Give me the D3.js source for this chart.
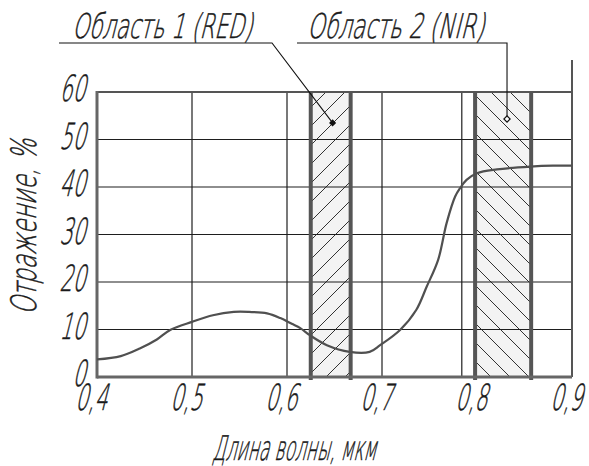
<!DOCTYPE html>
<html>
<head>
<meta charset="utf-8">
<script src="https://cdn.jsdelivr.net/npm/d3@7"></script>
<style>
  body { margin: 0; background: #fff; }
  text { font-family: "DejaVu Sans", sans-serif; font-weight: 200; fill: #1a1a1a; stroke: #1a1a1a; stroke-width: 0.5; }
</style>
</head>
<body>
<script>
// Spectral reflectance curve (wavelength, um -> reflectance, %)
const wavelength = [0.40, 0.425, 0.445, 0.463, 0.477, 0.50, 0.522, 0.544, 0.56, 0.579,
    0.593, 0.605, 0.614, 0.624, 0.642, 0.666, 0.687, 0.698, 0.719, 0.736,
    0.747, 0.759, 0.768, 0.777, 0.782, 0.789, 0.80, 0.821, 0.856, 0.88, 0.90];
const reflect = [3.7, 4.4, 6.0, 7.9, 9.9, 11.6, 13.0, 13.7, 13.7, 13.4,
    12.4, 11.2, 10.3, 8.8, 6.7, 5.3, 5.3, 6.7, 9.9, 14.1,
    19.0, 24.6, 32.4, 38.0, 39.7, 41.5, 42.9, 43.7, 44.3, 44.5, 44.5];
// tick labels
const xTicks = [0.4, 0.5, 0.6, 0.7, 0.8, 0.9];
const yTicks = [0, 10, 20, 30, 40, 50, 60];
// thin vertical grid lines
const xGrid = [0.5, 0.6, 0.7, 0.784];
// hatched regions
const regionNames = ["Область 1 (RED)", "Область 2 (NIR)"];
const regionFrom = [0.625, 0.798];
const regionTo = [0.667, 0.857];
// leader marker points (wavelength, %)
const markerX = [0.648, 0.8316];
const markerY = [53.5, 54.3];

const w = 589;
const h = 466;

const svg = d3.select("body")
    .append("svg")
    .attr("width", w)
    .attr("height", h);

const xScale = d3.scaleLinear().domain([0.4, 0.9]).range([97, 572]);
const yScale = d3.scaleLinear().domain([0, 60]).range([377, 92]);

// hatch patterns
const defs = svg.append("defs");
function hatch(id, dir) {
    const s = 19;
    const p = defs.append("pattern")
        .attr("id", id)
        .attr("patternUnits", "userSpaceOnUse")
        .attr("width", s)
        .attr("height", s);
    p.append("rect").attr("width", s).attr("height", s).attr("fill", "#f3f3f3");
    const d = dir == "up"
        ? `M0,${s} L${s},0 M${-s / 2},${s / 2} L${s / 2},${-s / 2} M${s / 2},${s * 1.5} L${s * 1.5},${s / 2}`
        : `M0,0 L${s},${s} M${-s / 2},${s / 2} L${s / 2},${s * 1.5} M${s / 2},${-s / 2} L${s * 1.5},${s / 2}`;
    p.append("path").attr("d", d).attr("stroke", "#333").attr("stroke-width", 1);
}
hatch("h1", "up");
hatch("h2", "down");

// hatched regions
svg.selectAll(".region")
    .data(regionFrom)
    .enter()
    .append("rect")
    .attr("class", "region")
    .attr("x", (d, i) => xScale(d))
    .attr("y", yScale(60))
    .attr("width", (d, i) => xScale(regionTo[i]) - xScale(d))
    .attr("height", yScale(0) - yScale(60))
    .attr("fill", (d, i) => i == 0 ? "url(#h1)" : "url(#h2)");

// horizontal grid
svg.selectAll(".hgrid")
    .data(yTicks.slice(1, -1))
    .enter()
    .append("line")
    .attr("x1", xScale(0.4))
    .attr("x2", xScale(0.9))
    .attr("y1", d => yScale(d))
    .attr("y2", d => yScale(d))
    .attr("stroke", "#1e1e1e")
    .attr("stroke-width", 1.2);

// vertical grid
svg.selectAll(".vgrid")
    .data(xGrid)
    .enter()
    .append("line")
    .attr("x1", d => xScale(d))
    .attr("x2", d => xScale(d))
    .attr("y1", yScale(0))
    .attr("y2", yScale(60))
    .attr("stroke", "#1e1e1e")
    .attr("stroke-width", 1.2);

// frame: top and right
svg.append("line")
    .attr("x1", xScale(0.4)).attr("x2", xScale(0.9))
    .attr("y1", yScale(60)).attr("y2", yScale(60))
    .attr("stroke", "#555").attr("stroke-width", 2);
svg.append("line")
    .attr("x1", xScale(0.9)).attr("x2", xScale(0.9))
    .attr("y1", yScale(0)).attr("y2", 60)
    .attr("stroke", "#555").attr("stroke-width", 2);

// thick region borders
const borders = regionFrom.concat(regionTo);
svg.selectAll(".border")
    .data(borders)
    .enter()
    .append("line")
    .attr("x1", d => xScale(d))
    .attr("x2", d => xScale(d))
    .attr("y1", yScale(0) + 3)
    .attr("y2", yScale(60))
    .attr("stroke", "#555")
    .attr("stroke-width", 4);

// axes (left, bottom)
svg.append("line")
    .attr("x1", xScale(0.4)).attr("x2", xScale(0.9))
    .attr("y1", yScale(0)).attr("y2", yScale(0))
    .attr("stroke", "#666").attr("stroke-width", 3);
svg.append("line")
    .attr("x1", xScale(0.4)).attr("x2", xScale(0.4))
    .attr("y1", yScale(0) + 1.5).attr("y2", yScale(60) - 1)
    .attr("stroke", "#666").attr("stroke-width", 3);

// reflectance curve
const line = d3.line()
    .x((d, i) => xScale(wavelength[i]))
    .y(d => yScale(d))
    .curve(d3.curveCatmullRom.alpha(0.5));
svg.append("path")
    .datum(reflect)
    .attr("d", line)
    .attr("fill", "none")
    .attr("stroke", "#505050")
    .attr("stroke-width", 2.2);

// drafting-style text: slanted, narrow, light
// len = wanted width on screen, the glyphs get squeezed to reach it
function label(txt, x, y, size, anchor, rot, len) {
    const g = svg.append("g");
    const t = g.append("text")
        .text(txt)
        .attr("font-size", size)
        .attr("text-anchor", anchor);
    let sx = 0.56;
    if (len) {
        sx = len / t.node().getComputedTextLength();
    }
    g.attr("transform", `translate(${x},${y}) rotate(${rot}) skewX(-14) scale(${sx},1)`);
    return t;
}

// tick labels
xTicks.forEach(d => label(String(d).replace(".", ","), xScale(d) - 6, 410, 36, "middle", 0));
yTicks.forEach(d => label(String(d), 85, yScale(d) + 9, 36, "end", 0));

// axis titles
label("Длина волны, мкм", 212, 460, 34, "start", 0, 164);
label("Отражение, %", 36, 315, 35, "start", -90, 176);

// region labels with leaders
label(regionNames[0], 72, 38, 34, "start", 0, 180);
label(regionNames[1], 307, 38, 34, "start", 0, 177);

svg.append("path")
    .attr("d", `M59,43 L272,43 L${xScale(markerX[0])},${yScale(markerY[0])}`)
    .attr("fill", "none").attr("stroke", "#111").attr("stroke-width", 1.1);
svg.append("path")
    .attr("d", `M297,43 L${xScale(markerX[1])},43 L${xScale(markerX[1])},${yScale(markerY[1])}`)
    .attr("fill", "none").attr("stroke", "#111").attr("stroke-width", 1.1);

// markers
svg.append("rect")
    .attr("x", xScale(markerX[0]) - 2.5)
    .attr("y", yScale(markerY[0]) - 2.5)
    .attr("width", 5).attr("height", 5)
    .attr("fill", "#111")
    .attr("transform", `rotate(45,${xScale(markerX[0])},${yScale(markerY[0])})`);
svg.append("rect")
    .attr("x", xScale(markerX[1]) - 2.2)
    .attr("y", yScale(markerY[1]) - 2.2)
    .attr("width", 4.4).attr("height", 4.4)
    .attr("fill", "#fff").attr("stroke", "#111").attr("stroke-width", 1.2)
    .attr("transform", `rotate(45,${xScale(markerX[1])},${yScale(markerY[1])})`);
</script>
</body>
</html>
